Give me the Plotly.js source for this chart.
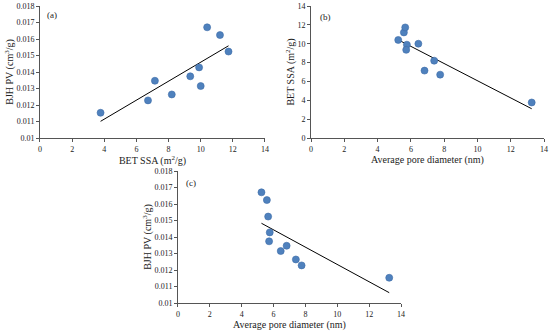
<!DOCTYPE html>
<html><head><meta charset="utf-8">
<script src="https://cdn.plot.ly/plotly-3.0.1.min.js"></script>
<style>body{margin:0;padding:0;background:#fff}#c{width:550px;height:332px}</style>
</head><body><div id="c"></div>
<script>
const poreDiameter = [5.24, 5.58, 5.66, 5.76, 5.72, 6.45, 6.82, 7.40, 7.76, 13.26];
const betSSA = [10.40, 11.20, 11.73, 9.90, 9.35, 10.00, 7.15, 8.20, 6.72, 3.77];
const bjhPV = [0.01671, 0.01624, 0.01524, 0.01428, 0.01374, 0.01315, 0.01347, 0.01264, 0.01228, 0.01153];
const xTicks = [0, 2, 4, 6, 8, 10, 12, 14];
const pvTicks = [0.010, 0.011, 0.012, 0.013, 0.014, 0.015, 0.016, 0.017, 0.018];
const ssaTicks = [0, 2, 4, 6, 8, 10, 12, 14];

function fit(xs, ys) {
  const n = xs.length;
  const mx = xs.reduce((a, b) => a + b, 0) / n;
  const my = ys.reduce((a, b) => a + b, 0) / n;
  let sxy = 0, sxx = 0;
  for (let i = 0; i < n; i++) { sxy += (xs[i] - mx) * (ys[i] - my); sxx += (xs[i] - mx) ** 2; }
  const m = sxy / sxx, b = my - m * mx;
  const x0 = Math.min(...xs), x1 = Math.max(...xs);
  return { x: [x0, x1], y: [m * x0 + b, m * x1 + b] };
}

const marker = { color: '#4F81BD', size: 7, line: { color: '#3C6CA8', width: 0.6 } };
const lineStyle = { color: '#000', width: 1 };
const fa = fit(betSSA, bjhPV), fb = fit(poreDiameter, betSSA), fc = fit(poreDiameter, bjhPV);

const data = [
  { x: fa.x, y: fa.y, mode: 'lines', line: lineStyle, xaxis: 'x', yaxis: 'y', hoverinfo: 'skip' },
  { x: betSSA, y: bjhPV, mode: 'markers', marker: marker, xaxis: 'x', yaxis: 'y' },
  { x: fb.x, y: fb.y, mode: 'lines', line: lineStyle, xaxis: 'x2', yaxis: 'y2', hoverinfo: 'skip' },
  { x: poreDiameter, y: betSSA, mode: 'markers', marker: marker, xaxis: 'x2', yaxis: 'y2' },
  { x: fc.x, y: fc.y, mode: 'lines', line: lineStyle, xaxis: 'x3', yaxis: 'y3', hoverinfo: 'skip' },
  { x: poreDiameter, y: bjhPV, mode: 'markers', marker: marker, xaxis: 'x3', yaxis: 'y3' }
];

const font = { family: '"Liberation Serif", "Times New Roman", serif', color: '#222' };
function xax(dom, anchor, title) {
  return { domain: dom, anchor: anchor, range: [0, 14], tickvals: xTicks, ticktext: xTicks.map(String),
    showgrid: false, zeroline: false, showline: true, linecolor: '#555', linewidth: 1,
    ticks: 'outside', ticklen: 3, tickcolor: '#555', tickfont: { size: 8 },
    title: { text: title, font: { size: 10 }, standoff: 2 } };
}
function yax(dom, anchor, range, ticks, fmt, title) {
  return { domain: dom, anchor: anchor, range: range, tickvals: ticks, ticktext: ticks.map(v => fmt(v)),
    showgrid: false, zeroline: false, showline: true, linecolor: '#555', linewidth: 1,
    ticks: 'outside', ticklen: 3, tickcolor: '#555', tickfont: { size: 8 },
    title: { text: title, font: { size: 10 }, standoff: 0 } };
}
const pvFmt = v => (Math.abs(v - 0.01) < 1e-9 ? '0.01' : v.toFixed(3));
const intFmt = v => String(v);

const layout = {
  width: 550, height: 332, margin: { l: 0, r: 0, t: 0, b: 0 },
  paper_bgcolor: '#fff', plot_bgcolor: '#fff', showlegend: false, font: font,
  xaxis: xax([0.0727, 0.4818], 'y', 'BET SSA (m<sup>2</sup>/g)'),
  yaxis: yax([0.5843, 0.9819], 'x', [0.010, 0.018], pvTicks, pvFmt, 'BJH PV (cm<sup>3</sup>/g)'),
  xaxis2: xax([0.5655, 0.9891], 'y2', 'Average pore diameter (nm)'),
  yaxis2: yax([0.5843, 0.9819], 'x2', [0, 14], ssaTicks, intFmt, 'BET SSA (m<sup>2</sup>/g)'),
  xaxis3: xax([0.3236, 0.7291], 'y3', 'Average pore diameter (nm)'),
  yaxis3: yax([0.0873, 0.4849], 'x3', [0.010, 0.018], pvTicks, pvFmt, 'BJH PV (cm<sup>3</sup>/g)'),
  annotations: [
    { text: '(a)', xref: 'paper', yref: 'paper', x: 45 / 550, y: 1 - 15 / 332, xanchor: 'left', yanchor: 'middle', showarrow: false, font: { size: 9 } },
    { text: '(b)', xref: 'paper', yref: 'paper', x: 318 / 550, y: 1 - 17 / 332, xanchor: 'left', yanchor: 'middle', showarrow: false, font: { size: 9 } },
    { text: '(c)', xref: 'paper', yref: 'paper', x: 184 / 550, y: 1 - 183 / 332, xanchor: 'left', yanchor: 'middle', showarrow: false, font: { size: 9 } }
  ]
};
Plotly.newPlot('c', data, layout, { displayModeBar: false, staticPlot: true });
</script></body></html>
